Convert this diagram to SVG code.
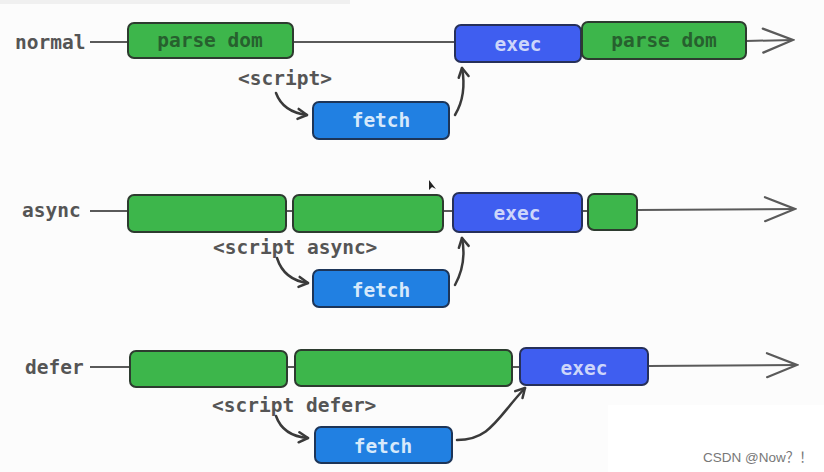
<svg xmlns="http://www.w3.org/2000/svg" width="824" height="472" viewBox="0 0 824 472">
  <style>
    .lbl { font-family: "DejaVu Sans Mono", "Liberation Mono", monospace; font-weight: bold; font-size: 19.5px; fill: #555; }
    .green { fill: #3db64b; stroke: #2d3b2f; stroke-width: 2; }
    .exec { fill: #3f5ef0; stroke: #26305a; stroke-width: 2; }
    .fetch { fill: #2180e2; stroke: #1d3558; stroke-width: 2; }
    .gt { font-family: "DejaVu Sans Mono", "Liberation Mono", monospace; font-weight: bold; font-size: 19.5px; fill: #27602e; text-anchor: middle; }
    .et { font-family: "DejaVu Sans Mono", "Liberation Mono", monospace; font-weight: bold; font-size: 19.5px; fill: #cdd6fa; text-anchor: middle; }
    .ft { font-family: "DejaVu Sans Mono", "Liberation Mono", monospace; font-weight: bold; font-size: 19.5px; fill: #d6e9fb; text-anchor: middle; }
    .line { stroke: #5a5a5a; stroke-width: 2; fill: none; }
    .curve { stroke: #3a3a3a; stroke-width: 2.5; fill: none; stroke-linecap: round; }
  </style>
  <defs>
    <marker id="bigArrow" markerUnits="userSpaceOnUse" viewBox="0 0 34 28" refX="32" refY="14" markerWidth="34" markerHeight="28" orient="auto">
      <path d="M2,2 L32,14 L2,26" fill="none" stroke="#5a5a5a" stroke-width="2.2" stroke-linecap="round"/>
    </marker>
    <marker id="smallArrow" markerUnits="userSpaceOnUse" viewBox="0 0 14 14" refX="11" refY="7" markerWidth="14" markerHeight="14" orient="auto">
      <path d="M2,2 L11,7 L2,12" fill="none" stroke="#3a3a3a" stroke-width="2.5" stroke-linecap="round" stroke-linejoin="round"/>
    </marker>
  </defs>
  <rect x="0" y="0" width="824" height="472" fill="#fcfcfc"/>
  <rect x="0" y="0" width="350" height="4" fill="#f0f0f0"/>

  <g id="connectors">
    <!-- timelines -->
    <line class="line" x1="90" y1="42" x2="128" y2="42"/>
    <line class="line" x1="293" y1="42" x2="455" y2="42"/>
    <line class="line" x1="746" y1="41" x2="793" y2="40" marker-end="url(#bigArrow)"/>

    <line class="line" x1="90" y1="211" x2="128" y2="211"/>
    <line class="line" x1="286" y1="211" x2="293" y2="211"/>
    <line class="line" x1="443" y1="211" x2="453" y2="211"/>
    <line class="line" x1="582" y1="211" x2="588" y2="211"/>
    <line class="line" x1="637" y1="210" x2="795" y2="209" marker-end="url(#bigArrow)"/>

    <line class="line" x1="90" y1="367" x2="130" y2="367"/>
    <line class="line" x1="287" y1="367" x2="295" y2="367"/>
    <line class="line" x1="512" y1="367" x2="520" y2="367"/>
    <line class="line" x1="648" y1="366" x2="797" y2="365" marker-end="url(#bigArrow)"/>

    <!-- curved arrows -->
    <path class="curve" d="M276,93 Q283,112 307,115" marker-end="url(#smallArrow)"/>
    <path class="curve" d="M455,115 Q467,95 462,68" marker-end="url(#smallArrow)"/>

    <path class="curve" d="M277,258 Q284,280 308,283" marker-end="url(#smallArrow)"/>
    <path class="curve" d="M455,285 Q467,263 462,238" marker-end="url(#smallArrow)"/>

    <path class="curve" d="M276,416 Q283,436 308,438" marker-end="url(#smallArrow)"/>
    <path class="curve" d="M457,440 C490,440 497,418 525,388" marker-end="url(#smallArrow)"/>
  </g>

  <!-- row labels -->
  <g id="label-normal"><text class="lbl" x="15" y="49">normal</text></g>
  <g id="label-async"><text class="lbl" x="22" y="217">async</text></g>
  <g id="label-defer"><text class="lbl" x="25" y="374">defer</text></g>

  <g id="label-script"><text class="lbl" x="238" y="85">&lt;script&gt;</text></g>
  <g id="label-script-async"><text class="lbl" x="213" y="254">&lt;script async&gt;</text></g>
  <g id="label-script-defer"><text class="lbl" x="212" y="412">&lt;script defer&gt;</text></g>

  <!-- normal row -->
  <g id="normal-parse1">
    <rect class="green" x="128" y="23" width="165" height="35" rx="6"/>
    <text class="gt" x="210" y="47">parse dom</text>
  </g>
  <g id="normal-exec">
    <rect class="exec" x="455" y="25" width="126" height="37" rx="6"/>
    <text class="et" x="518" y="51">exec</text>
  </g>
  <g id="normal-parse2">
    <rect class="green" x="582" y="22" width="164" height="37" rx="6"/>
    <text class="gt" x="664" y="47">parse dom</text>
  </g>
  <g id="normal-fetch">
    <rect class="fetch" x="313" y="102" width="136" height="37" rx="6"/>
    <text class="ft" x="381" y="127">fetch</text>
  </g>

  <!-- async row -->
  <g id="async-parse1"><rect class="green" x="128" y="195" width="158" height="37" rx="6"/></g>
  <g id="async-parse2"><rect class="green" x="293" y="195" width="150" height="37" rx="6"/></g>
  <g id="async-exec">
    <rect class="exec" x="453" y="193" width="129" height="39" rx="6"/>
    <text class="et" x="517" y="220">exec</text>
  </g>
  <g id="async-parse3"><rect class="green" x="588" y="194" width="49" height="36" rx="6"/></g>
  <g id="async-fetch">
    <rect class="fetch" x="313" y="270" width="136" height="37" rx="6"/>
    <text class="ft" x="381" y="297">fetch</text>
  </g>
  <g id="cursor"><path d="M429,180 L429,190 L432,187 L436,189 Z" fill="#222"/></g>

  <!-- defer row -->
  <g id="defer-parse1"><rect class="green" x="130" y="351" width="157" height="36" rx="6"/></g>
  <g id="defer-parse2"><rect class="green" x="295" y="350" width="217" height="36" rx="6"/></g>
  <g id="defer-exec">
    <rect class="exec" x="520" y="348" width="128" height="37" rx="6"/>
    <text class="et" x="584" y="375">exec</text>
  </g>
  <g id="defer-fetch">
    <rect class="fetch" x="315" y="427" width="137" height="36" rx="6"/>
    <text class="ft" x="383" y="453">fetch</text>
  </g>

  <!-- watermark -->
  <g id="watermark">
    <rect x="608" y="405" width="216" height="67" fill="#ffffff"/>
    <text x="703" y="462" font-family="'Liberation Sans', sans-serif" font-size="13.5" fill="#777">CSDN @Now<tspan font-family="'Noto Sans CJK SC', sans-serif">？！</tspan></text>
  </g>
</svg>
